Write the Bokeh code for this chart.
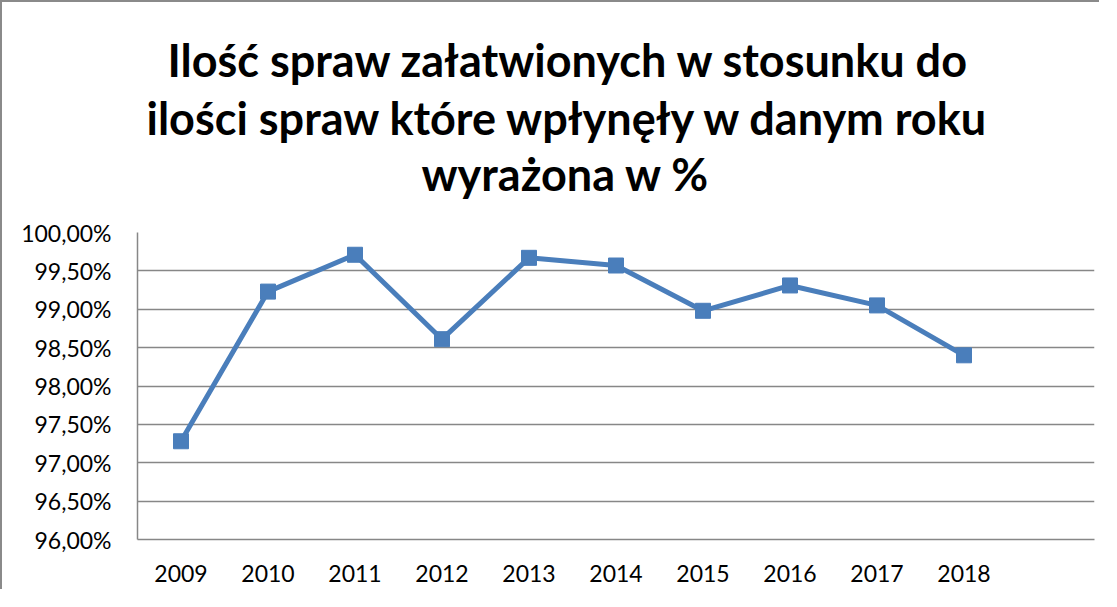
from bokeh.plotting import figure
from bokeh.models import Range1d, FixedTicker, Title, FactorRange
from bokeh.embed import file_html
from bokeh.resources import INLINE

years = ["2009", "2010", "2011", "2012", "2013", "2014", "2015", "2016", "2017", "2018"]
values = [97.28, 99.23, 99.71, 98.61, 99.67, 99.57, 98.98, 99.31, 99.05, 98.40]
y_ticks = [96.0, 96.5, 97.0, 97.5, 98.0, 98.5, 99.0, 99.5, 100.0]
y_tick_labels = ["96,00%", "96,50%", "97,00%", "97,50%", "98,00%", "98,50%", "99,00%", "99,50%", "100,00%"]
title_lines = ["Ilość spraw załatwionych w stosunku do",
               "ilości spraw które wpłynęły w danym roku",
               "wyrażona w %"]

FONT = "Lato"
GRID = "#878787"
BLUE = "#4a7ebb"

factors = years + [" "]
p = figure(width=1099, height=589, x_range=FactorRange(*factors, range_padding=0),
           y_range=Range1d(96, 100), output_backend="svg", toolbar_location=None,
           min_border_left=135, min_border_right=7, min_border_top=230, min_border_bottom=52)
p.title = None
p.styles = {"border-left": "2px solid #8a8a8a", "border-top": "2px solid #8a8a8a"}

p.line(years, values, line_color=BLUE, line_width=5)
p.scatter(years, values, marker="square", size=15, fill_color=BLUE, line_color=BLUE)

p.yaxis.ticker = FixedTicker(ticks=y_ticks)
p.yaxis.major_label_overrides = {t: l for t, l in zip(y_ticks, y_tick_labels)}
p.yaxis.major_label_text_font = FONT
p.yaxis.major_label_text_font_size = "23px"
p.yaxis.major_label_text_color = "black"
p.yaxis.major_label_standoff = 26
p.yaxis.major_tick_out = 0
p.yaxis.major_tick_in = 0
p.yaxis.minor_tick_out = 0
p.yaxis.minor_tick_in = 0
p.yaxis.axis_line_color = GRID
p.yaxis.axis_line_width = 1.5

p.xaxis.major_label_text_font = FONT
p.xaxis.major_label_text_font_size = "23px"
p.xaxis.major_label_text_color = "black"
p.xaxis.major_label_standoff = 19
p.xaxis.major_tick_out = 0
p.xaxis.major_tick_in = 0
p.xaxis.axis_line_color = GRID
p.xaxis.axis_line_width = 1.5

p.xgrid.grid_line_color = None
p.ygrid.grid_line_color = GRID
p.ygrid.grid_line_width = 1.5
p.outline_line_color = None

# spacer between the title block and the plot area
p.add_layout(Title(text=" ", text_font=FONT, text_font_size="25px", standoff=0), "above")

# closest to the plot first
title_offsets = [284, 9, 30]
title_standoffs = [0, 0, 4]
for line, off, so in zip(reversed(title_lines), title_offsets, title_standoffs):
    p.add_layout(Title(text=line, align="left", text_font=FONT, text_font_size="45px",
                       text_font_style="bold", text_color="black", offset=off, standoff=so), "above")

open("out.html", "w").write(file_html(p, INLINE))
